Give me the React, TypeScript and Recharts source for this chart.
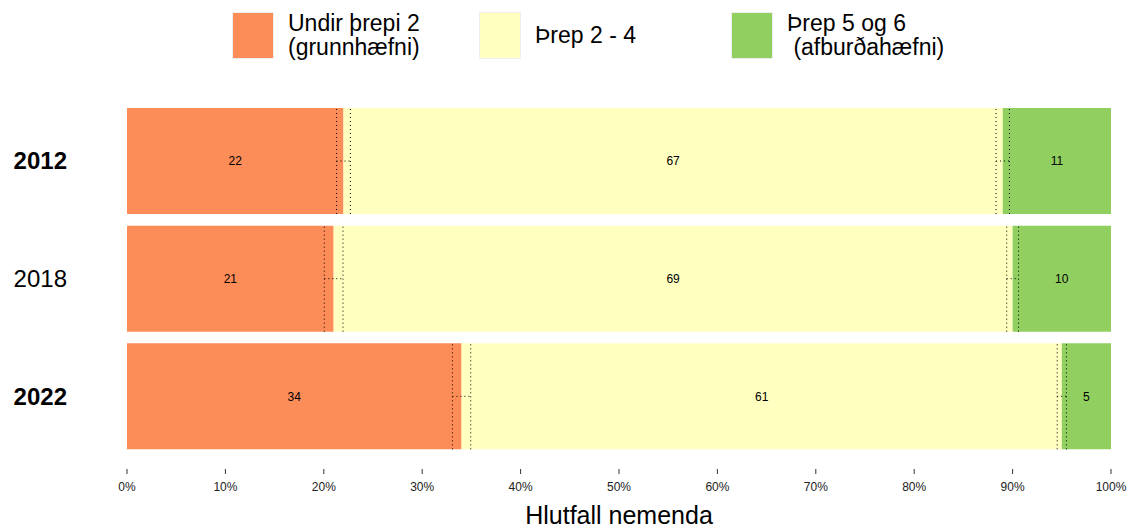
import React from 'react';
import { BarChart, Bar, XAxis, YAxis, ErrorBar, LabelList, Label } from 'recharts';

const years = ['2012', '2018', '2022'];
const boldYears = ['2012', '2022'];
const undirThrepi2 = [22, 21, 34];
const threp2til4 = [67, 69, 61];
const threp5og6 = [11, 10, 5];
const undirErr = [0.7, 0.95, 0.93];
const threp24Err = [0.68, 0.6, 0.47];
const xTicks = [0, 10, 20, 30, 40, 50, 60, 70, 80, 90, 100];
const seriesNames = ['Undir þrepi 2\n(grunnhæfni)', 'Þrep 2 - 4', 'Þrep 5 og 6\n (afburðahæfni)'];
const seriesColors = ['#FC8D59', '#FFFFBF', '#91CF60'];
const xTitle = 'Hlutfall nemenda';

const data = years.map((y, i) => ({
  year: y,
  undir: undirThrepi2[i],
  mid: threp2til4[i],
  top: threp5og6[i],
  undirErr: undirErr[i],
  midErr: threp24Err[i],
}));

const FONT = '"Liberation Sans", Arial, Helvetica, sans-serif';

const YTick = (props: any) => {
  const { x, y, payload } = props;
  const bold = boldYears.includes(String(payload.value));
  return (
    <text x={x} y={y} textAnchor="end" dominantBaseline="central" fontSize={24}
      fontFamily={FONT} fontWeight={bold ? 'bold' : 'normal'} fill="#000">
      {payload.value}
    </text>
  );
};

const Legend = () => (
  <div style={{ position: 'absolute', left: 232, top: 11, display: 'flex', fontFamily: FONT }}>
    {seriesNames.map((n, i) => (
      <div key={n} style={{ width: i === 0 ? 247 : 252, display: 'flex', alignItems: 'center' }}>
        <div style={{ width: 40, height: 45, background: seriesColors[i], border: '1px solid #eeeeee', flex: 'none' }} />
        <div style={{ marginLeft: 14, fontSize: 23, lineHeight: '24px', whiteSpace: 'pre', color: '#000' }}>{n}</div>
      </div>
    ))}
  </div>
);

const labelStyle = { fill: '#000', fontSize: 12, fontFamily: FONT };

export default function App() {
  return (
    <div style={{ position: 'absolute', left: 0, top: 0, width: 1131, height: 531, background: '#fff' }}>
      <Legend />
      <BarChart
        width={1131}
        height={531}
        data={data}
        layout="vertical"
        margin={{ top: 88, right: 20, bottom: 0, left: 0 }}
        barSize={106}
      >
        <XAxis
          type="number"
          domain={[0, 100]}
          ticks={xTicks}
          tickFormatter={(v: number) => `${v}%`}
          axisLine={false}
          tickSize={5}
          tickMargin={8}
          tickLine={{ stroke: '#333' }}
          tick={{ fontSize: 12, fill: '#222', fontFamily: FONT }}
          height={62}
          interval={0}
        >
          <Label
            content={(p: any) => {
              const vb = p.viewBox || {};
              return (
                <text x={vb.x + vb.width / 2} y={vb.y + 55} textAnchor="middle" fontSize={25}
                  fontFamily={FONT} fill="#000">{xTitle}</text>
              );
            }}
          />
        </XAxis>
        <YAxis
          type="category"
          dataKey="year"
          width={127}
          axisLine={false}
          tickLine={false}
          tickSize={0}
          tickMargin={60}
          tick={<YTick />}
          padding={{ top: 14, bottom: 14 }}
        />
        <Bar dataKey="undir" stackId="a" fill={seriesColors[0]} isAnimationActive={false}>
          <LabelList dataKey="undir" position="center" style={labelStyle} />
          <ErrorBar dataKey="undirErr" direction="x" width={53} stroke="#000" strokeDasharray="1 3" strokeWidth={1} />
        </Bar>
        <Bar dataKey="mid" stackId="a" fill={seriesColors[1]} isAnimationActive={false}>
          <LabelList dataKey="mid" position="center" style={labelStyle} />
          <ErrorBar dataKey="midErr" direction="x" width={53} stroke="#000" strokeDasharray="1 3" strokeWidth={1} />
        </Bar>
        <Bar dataKey="top" stackId="a" fill={seriesColors[2]} isAnimationActive={false}>
          <LabelList dataKey="top" position="center" style={labelStyle} />
        </Bar>
      </BarChart>
    </div>
  );
}
